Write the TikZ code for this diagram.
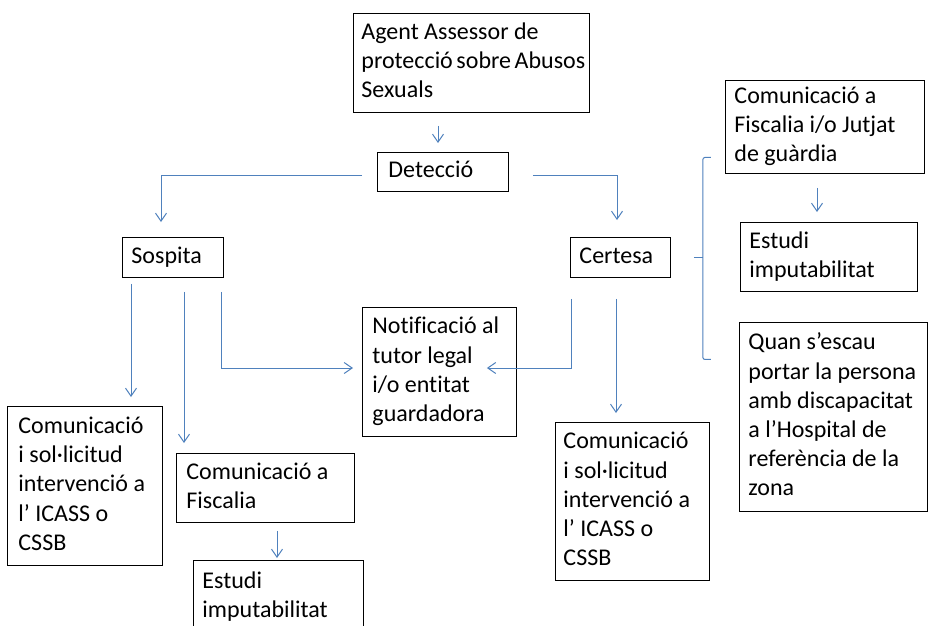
\documentclass[tikz,border=0pt]{standalone}
\usepackage{fontspec}
\setmainfont{Carlito}[Ligatures=NoCommon]
\usetikzlibrary{arrows.meta,calc}
\definecolor{lnblue}{RGB}{79,129,189}
\newcommand\boxfontsel{\fontsize{24}{29.2}\selectfont\hyphenpenalty=10000\relax\exhyphenpenalty=10000\relax}
\tikzset{
  box/.style={draw=black, line width=0.9pt, anchor=north west, align=flush left,
    inner ysep=0pt, font=\boxfontsel,
    execute at begin node=\strut, execute at end node=\strut},
  line/.style={draw=lnblue, line width=1pt},
  arr/.style={line, -{Straight Barb[length=8pt,width=11pt]}}
}
\begin{document}
\begin{tikzpicture}[x=1pt,y=-1pt]
\clip (0,0) rectangle (928,625);
\fill[white] (0,0) rectangle (928,625);

\node[box, inner xsep=8pt, text width=220pt, minimum height=99pt] (agent) at (353,13)
  {Agent~Assessor~de\\protecció~sobre~Abusos\\Sexuals};
\node[box, inner xsep=11pt, text width=109pt, minimum height=39pt] (detec) at (377,152) {Detecció};
\node[box, inner xsep=9pt, text width=83pt, minimum height=40pt] (sosp) at (122,237) {Sospita};
\node[box, inner xsep=9pt, text width=82pt, minimum height=40pt] (cert) at (570,237) {Certesa};
\node[box, inner xsep=9pt, text width=181pt, minimum height=93pt] (fisj) at (725,80)
  {Comunicació~a\\Fiscalia~i/o~Jutjat\\de~guàrdia};
\node[box, inner xsep=9pt, text width=159pt, minimum height=69pt] (estR) at (740,222)
  {Estudi\\imputabilitat};
\node[box, inner xsep=9pt, text width=170pt, minimum height=189pt] (quan) at (739,322)
  {Quan~s’escau\\portar~la~persona\\amb~discapacitat\\a~l’Hospital~de\\referència~de~la\\zona};
\node[box, inner xsep=10pt, text width=134pt, minimum height=129pt] (notif) at (362,307)
  {Notificació~al\\tutor~legal\\i/o~entitat\\guardadora};
\node[box, inner xsep=11pt, text width=133pt, minimum height=159pt] (comL) at (7,406)
  {Comunicació\\i~sol·licitud\\intervenció~a\\l’~ICASS~o\\CSSB};
\node[box, inner xsep=10pt, text width=158pt, minimum height=69pt] (fisc) at (176,453)
  {Comunicació~a\\Fiscalia};
\node[box, inner xsep=9pt, text width=152pt, minimum height=74pt] (estB) at (193,560)
  {Estudi\\imputabilitat};
\node[box, inner xsep=8pt, text width=138pt, minimum height=158pt] (comR) at (555,422)
  {Comunicació\\i~sol·licitud\\intervenció~a\\l’~ICASS~o\\CSSB};

\draw[arr] ($(agent.south west)+(85,13)$) -- ($(detec.north west)+(61,-9)$);
\draw[arr] ($(detec.south west)+(-15,-16)$) -| ($(sosp.north west)+(39,-15)$);
\draw[arr] ($(detec.south east)+(24,-16)$) -| ($(cert.north west)+(47,-17)$);
\draw[arr] ($(sosp.south west)+(9,6)$) -- ($(comL.north west)+(124,-9)$);
\draw[arr] ($(sosp.south west)+(62,14)$) -- ($(fisc.north west)+(8,-10)$);
\draw[arr] ($(sosp.south east)+(-2,14)$) |- ($(notif.north west)+(-9,61)$);
\draw[arr] ($(cert.south west)+(1,21)$) |- ($(notif.north east)+(-30,61)$);
\draw[arr] ($(cert.south west)+(46,21)$) -- ($(comR.north west)+(61,-9)$);
\draw[arr] ($(fisc.south west)+(101,8)$) -- ($(estB.north west)+(84,-2)$);
\draw[arr] ($(fisj.south west)+(92,14)$) -- ($(estR.north west)+(77,-10)$);

\coordinate (bt) at ($(cert.east)+(40,-100)$);
\coordinate (bb) at ($(cert.east)+(40,102)$);
\draw[line, rounded corners=2pt] (bt) -- ($(bt)+(-8,0)$) -- ($(bb)+(-8,0)$) -- (bb);
\draw[line] ($(cert.east)+(23,0)$) -- ($(cert.east)+(32,0)$);
\end{tikzpicture}
\end{document}
